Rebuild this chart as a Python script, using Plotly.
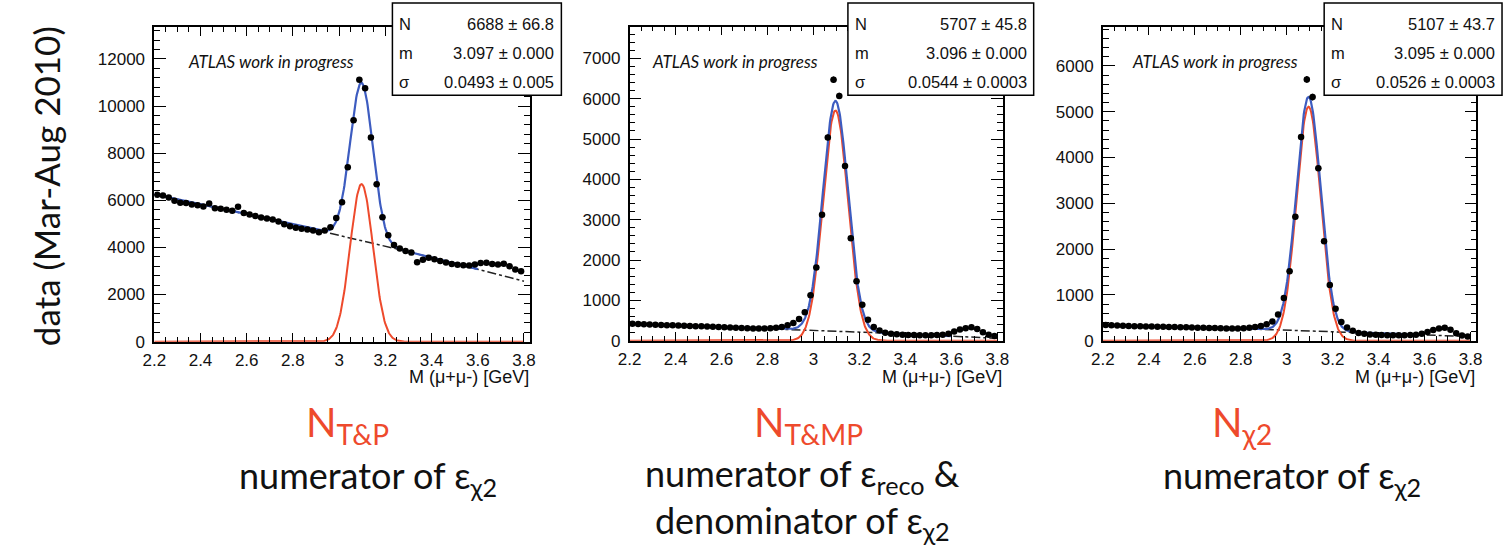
import numpy as np
import plotly.graph_objects as go

# ---------------- data ----------------
MASS_BINS = [2.2125, 2.2375, 2.2625, 2.2875, 2.3125, 2.3375, 2.3625, 2.3875,
             2.4125, 2.4375, 2.4625, 2.4875, 2.5125, 2.5375, 2.5625, 2.5875,
             2.6125, 2.6375, 2.6625, 2.6875, 2.7125, 2.7375, 2.7625, 2.7875,
             2.8125, 2.8375, 2.8625, 2.8875, 2.9125, 2.9375, 2.9625, 2.9875,
             3.0125, 3.0375, 3.0625, 3.0875, 3.1125, 3.1375, 3.1625, 3.1875,
             3.2125, 3.2375, 3.2625, 3.2875, 3.3125, 3.3375, 3.3625, 3.3875,
             3.4125, 3.4375, 3.4625, 3.4875, 3.5125, 3.5375, 3.5625, 3.5875,
             3.6125, 3.6375, 3.6625, 3.6875, 3.7125, 3.7375, 3.7625, 3.7875]
BIN_HALF_WIDTH = 0.0125

COUNTS_TP = [6230, 6200, 6120, 5980, 5900, 5880, 5820, 5790, 5740, 5860, 5660, 5640,
             5600, 5560, 5730, 5460, 5400, 5330, 5270, 5230, 5180, 5100, 4980, 4900,
             4830, 4790, 4760, 4720, 4640, 4720, 4860, 5250, 5920, 7400, 9400, 11120,
             10750, 8660, 6680, 5280, 4520, 4100, 3950, 3850, 3780, 3370, 3480, 3560,
             3500, 3420, 3360, 3300, 3260, 3240, 3230, 3280, 3340, 3350, 3300, 3270,
             3310, 3200, 3060, 2990]
COUNTS_TMP = [420, 415, 410, 400, 395, 390, 385, 380, 375, 370, 365, 360,
              355, 350, 345, 340, 335, 325, 320, 315, 310, 305, 300, 305,
              310, 320, 340, 380, 440, 540, 705, 1125, 1815, 3120, 5040, 6470,
              6070, 4330, 2540, 1475, 890, 520, 340, 250, 200, 175, 160, 150,
              140, 140, 135, 135, 135, 140, 150, 175, 230, 275, 310, 335,
              290, 210, 150, 115]
COUNTS_CHI2 = [340, 335, 330, 325, 320, 318, 315, 312, 310, 305, 302, 300,
               298, 295, 292, 290, 285, 280, 278, 275, 270, 268, 265, 268,
               272, 280, 300, 320, 360, 420, 570, 930, 1515, 2705, 4445, 5705,
               5320, 3765, 2170, 1215, 695, 410, 290, 215, 170, 150, 135, 128,
               122, 120, 118, 120, 118, 122, 130, 150, 190, 235, 265, 285,
               240, 160, 115, 90]

# fit results (Gaussian amplitude, mean, width) shown in the stat boxes
FIT_N = [6688, 5707, 5107]
FIT_M = [3.097, 3.096, 3.095]
FIT_SIGMA = [0.0493, 0.0544, 0.0526]
# quadratic background: c0 + c1*(x-ref) + c2*(x-ref)^2
BG_REF = [2.955, 3.0, 3.0]
BG_C0 = [4625, 260, 230]
BG_C1 = [-2287, -219, -150]
BG_C2 = [-178, -39, -30]
FIT_RANGE = [2.2, 3.6]
CURVE_RANGE = [2.2, 3.8]

STAT_LABELS = ["N", "m", "σ"]
STAT_N = ["6688 ± 66.8", "5707 ± 45.8", "5107 ± 43.7"]
STAT_M = ["3.097 ± 0.000", "3.096 ± 0.000", "3.095 ± 0.000"]
STAT_S = ["0.0493 ± 0.005", "0.0544 ± 0.0003", "0.0526 ± 0.0003"]

X_TITLE = "M (μ+μ-) [GeV]"
Y_TITLE = "data (Mar-Aug 2010)"
WATERMARK = "ATLAS work in progress"
CAPTION_N = ["N<sub>T&amp;P</sub>", "N<sub>T&amp;MP</sub>", "N<sub>χ2</sub>"]
CAPTION_BODY = ["numerator of ε<sub>χ2</sub>",
                "numerator of ε<sub>reco</sub> &amp;<br>denominator of ε<sub>χ2</sub>",
                "numerator of ε<sub>χ2</sub>"]

# ---------------- layout geometry (pixels) ----------------
W, H = 1510, 550
def px(x):
    return x / W
def py(y):
    return 1 - y / H

PANEL_X = [(144, 524), (625, 1003), (1104, 1482)]
PANEL_Y = [(28, 348), (27, 347), (27, 347)]
X_MAX = 3.825
Y_MAX = [13333, 7790, 6860]
Y_DTICK = [2000, 1000, 1000]
Y_MINOR = [400, 200, 200]
BOX_X = [(385, 556), (846, 1034), (1328, 1508)]
BOX_Y = (3, 97)
STAT_ROWS = [24, 54, 84]
WM_X = [176, 646, 1131]
CAP_X = [360, 800, 1295]
CAP_Y = [486, 508, 486]
CAPN_X = [340, 806, 1245]

RED = "#ee4a2c"
BLUE = "#3d5cc0"
TICKFONT = dict(family="Liberation Sans, Arial, sans-serif", size=17, color="#111111")

fig = go.Figure()
annotations = []
shapes = []
counts_all = [COUNTS_TP, COUNTS_TMP, COUNTS_CHI2]

for i in range(3):
    xa = "x" if i == 0 else f"x{i+1}"
    ya = "y" if i == 0 else f"y{i+1}"
    xc = np.linspace(CURVE_RANGE[0], CURVE_RANGE[1], 600)
    xf = np.linspace(FIT_RANGE[0], FIT_RANGE[1], 600)

    def bg(x):
        t = x - BG_REF[i]
        return BG_C0[i] + BG_C1[i] * t + BG_C2[i] * t * t

    def gaus(x):
        return FIT_N[i] * np.exp(-0.5 * ((x - FIT_M[i]) / FIT_SIGMA[i]) ** 2)

    fig.add_trace(go.Scatter(x=xc, y=bg(xc), mode="lines", xaxis=xa, yaxis=ya,
                             line=dict(color="#222222", width=1.5, dash="dashdot"),
                             showlegend=False, hoverinfo="skip"))
    fig.add_trace(go.Scatter(x=xc, y=gaus(xc), mode="lines", xaxis=xa, yaxis=ya,
                             line=dict(color=RED, width=2), showlegend=False, hoverinfo="skip"))
    fig.add_trace(go.Scatter(x=xf, y=gaus(xf) + bg(xf), mode="lines", xaxis=xa, yaxis=ya,
                             line=dict(color=BLUE, width=2.2), showlegend=False, hoverinfo="skip"))
    vals = np.array(counts_all[i], dtype=float)
    fig.add_trace(go.Scatter(x=MASS_BINS, y=vals, mode="markers", xaxis=xa, yaxis=ya,
                             marker=dict(color="black", size=6.5),
                             error_x=dict(type="constant", value=BIN_HALF_WIDTH, width=0,
                                          thickness=1.4, color="black"),
                             error_y=dict(type="data", array=np.sqrt(vals), width=0,
                                          thickness=1.4, color="black"),
                             showlegend=False))

    x0, x1 = PANEL_X[i]
    y0, y1 = PANEL_Y[i]
    xkey = "xaxis" if i == 0 else f"xaxis{i+1}"
    ykey = "yaxis" if i == 0 else f"yaxis{i+1}"
    fig.layout[xkey] = dict(domain=[px(x0), px(x1)], range=[2.2, X_MAX], anchor=ya,
                            tick0=2.2, dtick=0.2, tickformat=".1~f",
                            ticks="inside", ticklen=9, tickwidth=1.3, tickcolor="black",
                            minor=dict(tick0=2.2, dtick=0.05, ticks="inside", ticklen=5,
                                       tickwidth=1, tickcolor="black"),
                            showline=True, linewidth=1.6, linecolor="black", mirror="allticks",
                            showgrid=False, zeroline=False, tickfont=TICKFONT,
                            ticklabelstandoff=2)
    fig.layout[ykey] = dict(domain=[py(y1), py(y0)], range=[0, Y_MAX[i]], anchor=xa,
                            tick0=0, dtick=Y_DTICK[i], tickformat="d",
                            ticks="inside", ticklen=12, tickwidth=1.3, tickcolor="black",
                            minor=dict(tick0=0, dtick=Y_MINOR[i], ticks="inside", ticklen=6,
                                       tickwidth=1, tickcolor="black"),
                            showline=True, linewidth=1.6, linecolor="black", mirror="allticks",
                            showgrid=False, zeroline=False, tickfont=TICKFONT,
                            ticklabelstandoff=4)

    # x title
    annotations.append(dict(x=px(x1 + 1), y=py(384), xref="paper", yref="paper", text=X_TITLE,
                            showarrow=False, xanchor="right", yanchor="middle",
                            font=dict(family="Liberation Sans, Arial, sans-serif", size=18,
                                      color="#111111")))
    # watermark
    annotations.append(dict(x=px(WM_X[i]), y=py(63), xref="paper", yref="paper",
                            text=f"<i>{WATERMARK}</i>", showarrow=False, xanchor="left",
                            yanchor="middle",
                            font=dict(family="Lato, sans-serif", size=17, color="#111111")))
    # stat box
    bx0, bx1 = BOX_X[i]
    shapes.append(dict(type="rect", xref="paper", yref="paper", x0=px(bx0), x1=px(bx1),
                       y0=py(BOX_Y[1]), y1=py(BOX_Y[0]), line=dict(color="black", width=1.5),
                       fillcolor="white", layer="above"))
    stat_vals = [STAT_N[i], STAT_M[i], STAT_S[i]]
    for r in range(3):
        annotations.append(dict(x=px(bx0 + 5), y=py(STAT_ROWS[r]), xref="paper", yref="paper",
                                text=STAT_LABELS[r], showarrow=False, xanchor="left",
                                yanchor="middle",
                                font=dict(family="Liberation Sans, Arial, sans-serif", size=16.5,
                                          color="#111111")))
        annotations.append(dict(x=px(bx1 - 5), y=py(STAT_ROWS[r]), xref="paper", yref="paper",
                                text=stat_vals[r], showarrow=False, xanchor="right",
                                yanchor="middle",
                                font=dict(family="Liberation Sans, Arial, sans-serif", size=16.5,
                                          color="#111111")))
    # captions
    annotations.append(dict(x=px(CAPN_X[i]), y=py(432), xref="paper", yref="paper",
                            text=CAPTION_N[i], showarrow=False, xanchor="center", yanchor="middle",
                            font=dict(family="Lato, sans-serif", size=40, color=RED)))
    annotations.append(dict(x=px(CAP_X[i]), y=py(CAP_Y[i]), xref="paper", yref="paper",
                            text=CAPTION_BODY[i], showarrow=False, xanchor="center",
                            yanchor="middle", align="center",
                            font=dict(family="Lato, sans-serif", size=36, color="#111111")))

annotations.append(dict(x=px(34), y=py(190), xref="paper", yref="paper", text=Y_TITLE,
                        showarrow=False, textangle=-90, xanchor="center", yanchor="middle",
                        font=dict(family="Lato, sans-serif", size=35, color="#111111")))

fig.update_layout(width=W, height=H, margin=dict(l=0, r=0, t=0, b=0),
                  paper_bgcolor="white", plot_bgcolor="white",
                  annotations=annotations, shapes=shapes, showlegend=False)

fig.write_html("out.html")
